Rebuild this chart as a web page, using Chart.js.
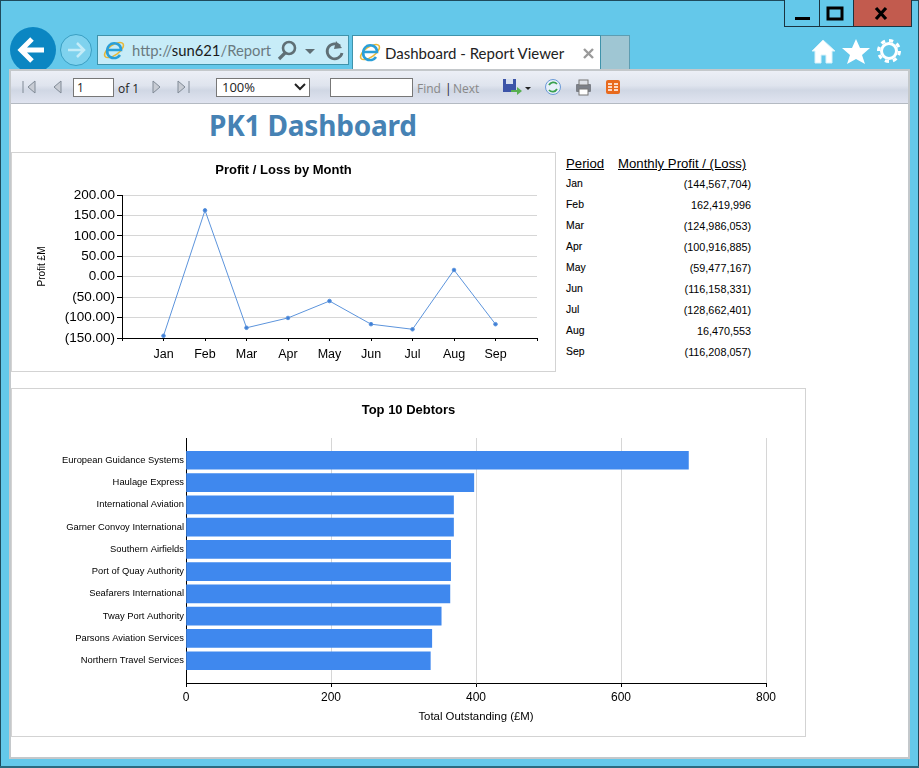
<!DOCTYPE html>
<html>
<head>
<meta charset="utf-8">
<title>Dashboard - Report Viewer</title>
<script src="https://cdn.jsdelivr.net/npm/chart.js@4/dist/chart.umd.min.js"></script>
<style>
html, body { margin: 0; padding: 0; width: 919px; height: 768px; overflow: hidden; }
body { position: relative; background: #64c8ea; font-family: "Open Sans", sans-serif; }
.abs, .abs * { box-sizing: border-box; }
.abs { position: absolute; white-space: nowrap; }
#frame { left: 0; top: 0; width: 919px; height: 766px; border: 1px solid #1e4a5c; border-bottom: 0; }
#bottomline { left: 0; top: 766px; width: 919px; height: 2px; background: #2a6a80; }
.winbtn { top: 0; height: 27px; border: 1px solid #1b3340; border-top: 0; }
#addr { left: 97px; top: 35px; width: 252px; height: 30px; background: #c7ecf8; border: 1px solid #3f93ab; }
#addr-text { left: 132px; top: 41px; font-family: Lato, sans-serif; font-size: 14.8px; color: #6a7a80; }
#addr-text b { font-weight: normal; color: #1a1a1a; }
#tab { left: 352px; top: 35px; width: 249px; height: 35px; background: #fff; border: 1px solid #3f93ab; border-bottom: 0; }
#tab-text { left: 385px; top: 44px; font-family: Lato, sans-serif; font-size: 15px; color: #222; }
#newtab { left: 601px; top: 35px; width: 29px; height: 35px; background: #9fc6d3; border: 1px solid #5d9db2; border-left: 0; border-bottom: 0; }
#page { left: 9px; top: 69px; width: 901px; height: 690px; background: #fff; border: 2px solid #c4c8cb; border-right-width: 2px; }
#toolbar { left: 11px; top: 71px; width: 897px; height: 33px; border-bottom: 1px solid #b4bac2;
  background: linear-gradient(#eceff6, #dfe4ee 45%, #d0d7e4 60%, #e0e4f0); }
.input { top: 78px; height: 19px; background: #fff; border: 1px solid #777; font-size: 12px; color: #222; padding-left: 3px; line-height: 17px; }
.tb { top: 80px; font-size: 12px; color: #222; }
.tb.off { color: #888; }
#report-title { left: 209px; top: 106px; font-family: "Noto Sans", sans-serif; font-size: 28px; font-weight: bold; color: #4682b4; line-height: 38px; letter-spacing: -0.2px; }
.panel { border: 1px solid #d3d3d3; background: #fff; }
.panel canvas { position: absolute; left: -1px; top: -1px; }
#lineBox { left: 11px; top: 152px; width: 545px; height: 220px; }
#barBox { left: 11px; top: 388px; width: 795px; height: 349px; }
.cell { font-family: "Liberation Sans", Arial, sans-serif; color: #000; }
.head { font-size: 13.2px; text-decoration: underline; top: 156px; }
.period { left: 566px; font-size: 10.4px; -webkit-text-stroke: 0.1px #000; }
.money { right: 168px; font-size: 10.8px; text-align: right; }
</style>
</head>
<body>
<div class="abs" id="frame"></div>
<div class="abs" id="bottomline"></div>

<!-- window buttons -->
<div class="abs winbtn" style="left:784px;width:36px;background:#64c8ea"></div>
<div class="abs winbtn" style="left:819px;width:35px;background:#64c8ea"></div>
<div class="abs winbtn" style="left:853px;width:59px;background:#c25b4e"></div>
<svg class="abs" style="left:784px;top:0" width="130" height="28">
  <rect x="11" y="17" width="15" height="3" fill="#000"/>
  <rect x="44" y="8" width="14" height="11" fill="none" stroke="#000" stroke-width="3"/>
  <path d="M92 8 L102 19 M102 8 L92 19" stroke="#000" stroke-width="3.2"/>
</svg>

<!-- navigation -->
<svg class="abs" style="left:8px;top:24px" width="92" height="52">
  <circle cx="25" cy="26" r="23" fill="#0b86c2"/>
  <path d="M14 26 H36 M24 15 L13 26 L24 37" stroke="#fff" stroke-width="5" fill="none"/>
  <circle cx="68" cy="26" r="15.5" fill="#7fd2ee" stroke="#3a9fc3"/>
  <path d="M60 26 H76 M69 19 L76 26 L69 33" stroke="#c4ecf8" stroke-width="2.5" fill="none"/>
</svg>
<div class="abs" id="addr"></div>
<div class="abs" id="addr-text">http://<b>sun621</b>/Report</div>
<svg class="abs" style="left:102px;top:38px" width="24" height="24">
  <ellipse cx="12" cy="12" rx="11" ry="5" fill="none" stroke="#e8b838" stroke-width="1.5" transform="rotate(-35 12 12)"/>
  <path d="M5 12 H19 C19 6 13 4 9 6 C4 9 4 16 8 19 C12 21 16 20 18 17" fill="none" stroke="#2a9fd8" stroke-width="2.6"/>
</svg>
<svg class="abs" style="left:276px;top:39px" width="70" height="24">
  <circle cx="13" cy="9" r="6" fill="none" stroke="#5f6f75" stroke-width="2.6"/>
  <path d="M9 14 L3 20" stroke="#5f6f75" stroke-width="3.2"/>
  <path d="M29 10 H39 L34 15 Z" fill="#5f6f75"/>
  <path d="M64 7 A7.5 7.5 0 1 0 66 14" fill="none" stroke="#5f6f75" stroke-width="2.8"/>
  <path d="M60 2 L66 9 L58 10 Z" fill="#5f6f75"/>
</svg>
<div class="abs" id="tab"></div>
<svg class="abs" style="left:358px;top:40px" width="24" height="24">
  <ellipse cx="12" cy="12" rx="11" ry="5" fill="none" stroke="#e8b838" stroke-width="1.5" transform="rotate(-35 12 12)"/>
  <path d="M5 12 H19 C19 6 13 4 9 6 C4 9 4 16 8 19 C12 21 16 20 18 17" fill="none" stroke="#2a9fd8" stroke-width="2.6"/>
</svg>
<div class="abs" id="tab-text">Dashboard - Report Viewer</div>
<svg class="abs" style="left:582px;top:47px" width="13" height="13"><path d="M2 2 L11 11 M11 2 L2 11" stroke="#9a9a9a" stroke-width="2.4"/></svg>
<div class="abs" id="newtab"></div>

<!-- home, favourites, tools -->
<svg class="abs" style="left:808px;top:36px" width="100" height="30" fill="#fff">
  <path d="M15 4 L4 15 H7 V27 H13 V19 H18 V27 H24 V15 H27 Z" stroke="#d8f2fa"/>
  <path d="M48 3 L52 12 L62 12 L54 19 L57 28 L48 23 L39 28 L42 19 L34 12 L44 12 Z"/>
  <circle cx="81" cy="15" r="7.5" fill="none" stroke="#fff" stroke-width="3"/>
  <circle cx="81" cy="15" r="10.5" fill="none" stroke="#fff" stroke-width="3" stroke-dasharray="4.2 4"/>
</svg>

<!-- report area -->
<div class="abs" id="page"></div>
<div class="abs" id="toolbar"></div>
<svg class="abs" style="left:20px;top:79px" width="175" height="17" fill="#c8ccd4" stroke="#808a96">
  <path d="M3 2 V14 M15 2 L8 8 L15 14 Z"/>
  <path d="M41 2 L34 8 L41 14 Z"/>
  <path d="M133 2 L140 8 L133 14 Z"/>
  <path d="M158 2 L165 8 L158 14 Z M169 2 V14"/>
</svg>
<div class="abs input" style="left:73px;width:41px">1</div>
<div class="abs tb" style="left:118px">of 1</div>
<div class="abs input" style="left:216px;width:94px;font-size:13px;padding-left:5px">100%</div>
<svg class="abs" style="left:293px;top:82px" width="14" height="10"><path d="M2 2 L7 7 L12 2" fill="none" stroke="#222" stroke-width="2"/></svg>
<div class="abs input" style="left:330px;width:83px"></div>
<div class="abs tb off" style="left:417px">Find</div>
<div class="abs tb" style="left:445px">|</div>
<div class="abs tb off" style="left:453px">Next</div>
<svg class="abs" style="left:502px;top:78px" width="125" height="20">
  <rect x="1" y="1" width="13" height="13" fill="#3c54a8"/>
  <rect x="4" y="1" width="7" height="5" fill="#d8e0f0"/>
  <path d="M9 12 H15 V9 L20 13 L15 17 V14 H9 Z" fill="#58b050"/>
  <path d="M23 9 H29 L26 12 Z" fill="#222"/>
  <circle cx="51" cy="9" r="7.5" fill="#e8f0fa" stroke="#6a9ad8"/>
  <path d="M47 7 A5 5 0 0 1 55 6 M55 11 A5 5 0 0 1 47 12" fill="none" stroke="#3aa050" stroke-width="1.8"/>
  <rect x="74" y="6" width="15" height="8" rx="1" fill="#7c8088"/>
  <rect x="77" y="2" width="9" height="5" fill="#dfe2e8" stroke="#777"/>
  <rect x="77" y="11" width="9" height="6" fill="#fff" stroke="#777"/>
  <rect x="104" y="2" width="14" height="14" rx="2" fill="#e86a1e"/>
  <path d="M106 6 H110 M106 9 H110 M106 12 H110 M112 6 H116 M112 9 H116 M112 12 H116" stroke="#fff" stroke-width="1.4"/>
</svg>

<div class="abs" id="report-title">PK1 Dashboard</div>

<div class="abs panel" id="lineBox"><canvas id="lineChart" width="545" height="220"></canvas></div>
<div class="abs panel" id="barBox"><canvas id="barChart" width="795" height="349"></canvas></div>

<div class="abs cell head" style="left:566px">Period</div>
<div class="abs cell head" style="left:618px">Monthly Profit / (Loss)</div>
<div id="table"></div>

<script>
const months = ['Jan', 'Feb', 'Mar', 'Apr', 'May', 'Jun', 'Jul', 'Aug', 'Sep'];
const profitM = [-144.57, 162.42, -124.99, -100.92, -59.48, -116.16, -128.66, 16.47, -116.21];
const profitText = ['(144,567,704)', '162,419,996', '(124,986,053)', '(100,916,885)', '(59,477,167)',
    '(116,158,331)', '(128,662,401)', '16,470,553', '(116,208,057)'];

const debtors = ['European Guidance Systems', 'Haulage Express', 'International Aviation',
    'Garner Convoy International', 'Southern Airfields', 'Port of Quay Authority',
    'Seafarers International', 'Tway Port Authority', 'Parsons Aviation Services',
    'Northern Travel Services'];
const outstanding = [693, 397, 369, 369, 365, 365, 364, 352, 339, 337];

const FONT = '"Liberation Sans", Arial, sans-serif';
const GRID = '#d6d6d6';

Chart.defaults.font.family = FONT;
Chart.defaults.color = '#000';
Chart.defaults.animation = false;

// Side table
const table = document.getElementById('table');
months.forEach((m, i) => {
    const top = 178 + i * 21;
    table.insertAdjacentHTML('beforeend',
        `<div class="abs cell period" style="top:${top}px">${m}</div>` +
        `<div class="abs cell money" style="top:${top}px">${profitText[i]}</div>`);
});

// Line chart - blank labels at each end leave a band of space either side of the series
new Chart(document.getElementById('lineChart'), {
    type: 'line',
    data: {
        labels: ['', ...months, ''],
        datasets: [{
            data: [null, ...profitM, null],
            borderColor: '#5c94dc',
            backgroundColor: '#3f7fd6',
            borderWidth: 1,
            pointRadius: 1.8,
            tension: 0
        }]
    },
    options: {
        responsive: false,
        // left and right padding kept equal so the title stays centred on the panel
        layout: { autoPadding: false, padding: { left: 19, right: 19, top: 0, bottom: 0 } },
        plugins: {
            legend: { display: false },
            tooltip: { enabled: false },
            title: {
                display: true,
                text: 'Profit / Loss by Month',
                font: { size: 13, weight: 'bold' },
                color: '#000',
                padding: { top: 11, bottom: 16.4 }
            }
        },
        scales: {
            x: {
                offset: false,
                border: { color: '#000' },
                grid: { drawOnChartArea: false, tickColor: '#000', tickLength: 3 },
                ticks: { font: { size: 12.5 }, color: '#000', maxRotation: 0, autoSkip: false, padding: 6 },
                afterFit: s => { s.height = 34; }
            },
            y: {
                min: -150,
                max: 200,
                border: { color: '#000' },
                grid: { color: GRID, tickColor: '#000', tickLength: 5 },
                ticks: {
                    stepSize: 50,
                    font: { size: 13.5 },
                    color: '#000',
                    padding: 2,
                    callback: v => v < 0 ? '(' + Math.abs(v).toFixed(2) + ')' : v.toFixed(2)
                },
                title: { display: true, text: 'Profit £M', font: { size: 10 }, color: '#000', padding: { top: 6, bottom: 0 } },
                afterFit: s => { s.width = 92; }
            }
        }
    }
});

// Bar chart - linear y axis so the bars sit one band in from both ends of the axis line
new Chart(document.getElementById('barChart'), {
    type: 'bar',
    data: {
        datasets: [{
            data: outstanding.map((v, i) => ({ x: v, y: i })),
            backgroundColor: '#3f88ee',
            barThickness: 18
        }]
    },
    options: {
        indexAxis: 'y',
        responsive: false,
        layout: { autoPadding: false, padding: { left: 40, right: 40, top: 0, bottom: 0 } },
        plugins: {
            legend: { display: false },
            tooltip: { enabled: false },
            title: {
                display: true,
                text: 'Top 10 Debtors',
                font: { size: 13, weight: 'bold' },
                color: '#000',
                padding: { top: 15, bottom: 19.4 }
            }
        },
        scales: {
            x: {
                min: 0,
                max: 800,
                border: { color: '#000' },
                grid: { color: GRID, tickColor: '#000', tickLength: 4 },
                ticks: { stepSize: 200, font: { size: 12 }, color: '#000', maxRotation: 0, padding: 3 },
                title: { display: true, text: 'Total Outstanding (£M)', font: { size: 11.4 }, color: '#000', padding: { top: 10, bottom: 13 } },
                afterFit: s => { s.height = 54; }
            },
            y: {
                type: 'linear',
                offset: false,
                reverse: true,
                min: -1,
                max: 10,
                border: { color: '#000' },
                grid: { display: false, drawTicks: false },
                ticks: {
                    stepSize: 1,
                    autoSkip: false,
                    font: { size: 9.4 },
                    color: '#000',
                    padding: 2,
                    callback: v => debtors[v] || ''
                },
                afterFit: s => { s.width = 135; }
            }
        }
    }
});
</script>
</body>
</html>
